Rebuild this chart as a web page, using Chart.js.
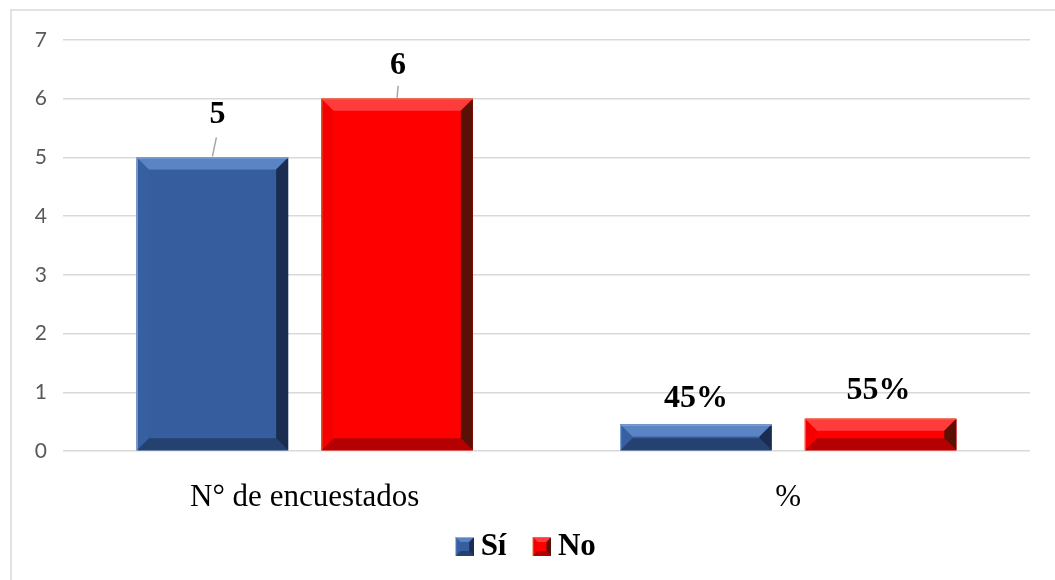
<!DOCTYPE html>
<html lang="es">
<head>
<meta charset="UTF-8">
<title>Encuestados</title>
<script src="https://cdn.jsdelivr.net/npm/chart.js"></script>
<style>
    html, body { margin: 0; padding: 0; background: #fff; }
    #wrap { width: 1055px; height: 580px; }
</style>
</head>
<body>
<div id="wrap"><canvas id="chart" width="1055" height="580"></canvas></div>
<script>
    // chart data
    const categories = ['N° de encuestados', '%'];
    const siValues = [5, 0.45];
    const noValues = [6, 0.55];
    const siLabels = ['5', '45%'];
    const noLabels = ['6', '55%'];
    const seriesNames = ['Sí', 'No'];
    const yMax = 7;

    const serif = '"Liberation Serif", "Times New Roman", serif';

    // colours for the bevelled bars
    const palettes = [
        { main: '#365E9F', top: '#5A84C4', left: '#3760A2', bottom: '#25416F', right: '#1A2D50', edge: '#8EB0DC' },
        { main: '#FF0000', top: '#FF3C3C', left: '#F50000', bottom: '#B40000', right: '#5A1004', edge: '#D2762E' }
    ];

    function bevel(ctx, x0, y0, x1, y1, p, b) {
        ctx.save();
        function poly(pts, col) {
            ctx.beginPath();
            ctx.moveTo(pts[0][0], pts[0][1]);
            for (let i = 1; i < pts.length; i++) ctx.lineTo(pts[i][0], pts[i][1]);
            ctx.closePath();
            ctx.fillStyle = col;
            ctx.fill();
        }
        poly([[x0, y0], [x1, y0], [x1, y1], [x0, y1]], p.main);
        poly([[x0, y0], [x1, y0], [x1 - b, y0 + b], [x0 + b, y0 + b]], p.top);
        poly([[x0, y1], [x1, y1], [x1 - b, y1 - b], [x0 + b, y1 - b]], p.bottom);
        poly([[x0, y0], [x0 + b, y0 + b], [x0 + b, y1 - b], [x0, y1]], p.left);
        poly([[x1, y0], [x1 - b, y0 + b], [x1 - b, y1 - b], [x1, y1]], p.right);
        ctx.strokeStyle = p.edge;
        ctx.lineWidth = 1;
        ctx.beginPath();
        ctx.moveTo(x0 + 0.5, y1);
        ctx.lineTo(x0 + 0.5, y0 + 0.5);
        ctx.lineTo(x1, y0 + 0.5);
        ctx.stroke();
        ctx.restore();
    }

    // legend swatches (square sits on the right half so it hugs the text)
    const swatches = palettes.map(p => {
        const c = document.createElement('canvas');
        c.width = 38; c.height = 19;
        bevel(c.getContext('2d'), 19, 0, 38, 19, p, 5);
        return c;
    });

    // where each value label sits above its bar (dx, dy above top, leader line)
    const labelPos = [
        [{ dx: 5, dy: 43, line: [4, 20] }, { dx: 0, dy: 26 }],
        [{ dx: 1, dy: 33, line: [1, 13] }, { dx: -2, dy: 28 }]
    ];
    const valueTexts = [siLabels, noLabels];

    const framePlugin = {
        id: 'frame',
        beforeDraw(chart) {
            const ctx = chart.ctx;
            ctx.save();
            ctx.strokeStyle = '#D9D9D9';
            ctx.lineWidth = 1.5;
            ctx.beginPath();
            ctx.moveTo(11, 580);
            ctx.lineTo(11, 10);
            ctx.lineTo(1055, 10);
            ctx.stroke();
            ctx.restore();
        }
    };

    const bevelPlugin = {
        id: 'bevel',
        afterDatasetsDraw(chart) {
            const ctx = chart.ctx;
            chart.data.datasets.forEach((ds, di) => {
                const meta = chart.getDatasetMeta(di);
                meta.data.forEach((bar, i) => {
                    const x0 = bar.x - bar.width / 2, x1 = bar.x + bar.width / 2;
                    const y0 = bar.y, y1 = bar.base;
                    const b = Math.min(12, (y1 - y0) / 2);
                    bevel(ctx, x0, y0, x1, y1, palettes[di], b);

                    // value label
                    const pos = labelPos[di][i];
                    ctx.save();
                    if (pos.line) {
                        ctx.strokeStyle = '#A6A6A6';
                        ctx.lineWidth = 1.5;
                        ctx.beginPath();
                        ctx.moveTo(bar.x, y0 - 1);
                        ctx.lineTo(bar.x + pos.line[0], y0 - pos.line[1]);
                        ctx.stroke();
                    }
                    ctx.fillStyle = '#000';
                    ctx.font = 'bold 32px ' + serif;
                    ctx.textAlign = 'center';
                    ctx.textBaseline = 'middle';
                    ctx.fillText(valueTexts[di][i], bar.x + pos.dx, y0 - pos.dy);
                    ctx.restore();
                });
            });
        }
    };

    new Chart(document.getElementById('chart'), {
        type: 'bar',
        data: {
            labels: categories,
            datasets: [
                { label: seriesNames[0], data: siValues, backgroundColor: palettes[0].main },
                { label: seriesNames[1], data: noValues, backgroundColor: palettes[1].main }
            ]
        },
        options: {
            responsive: false,
            animation: false,
            categoryPercentage: 0.764,
            barPercentage: 0.82,
            layout: { padding: { left: 11, right: 25, top: 40, bottom: 8 } },
            scales: {
                x: {
                    grid: { display: false },
                    border: { display: false },
                    ticks: { color: '#000', font: { family: serif, size: 31 }, padding: 20 },
                    afterFit(scale) { scale.height = 64; }
                },
                y: {
                    min: 0,
                    max: yMax,
                    ticks: { stepSize: 1, color: '#595959', font: { family: 'Lato, "Open Sans", sans-serif', size: 21 }, padding: 16 },
                    grid: { color: '#D9D9D9', lineWidth: 1.5, drawTicks: false },
                    border: { display: false },
                    afterFit(scale) { scale.width = 52; }
                }
            },
            plugins: {
                tooltip: { enabled: false },
                legend: {
                    position: 'bottom',
                    labels: {
                        usePointStyle: true,
                        boxWidth: 20,
                        boxHeight: 20,
                        padding: 16,
                        color: '#000',
                        font: { family: serif, size: 31, weight: 'bold' },
                        generateLabels(chart) {
                            const items = Chart.defaults.plugins.legend.labels.generateLabels(chart);
                            items.forEach((it, i) => { it.pointStyle = swatches[i]; });
                            return items;
                        }
                    }
                }
            }
        },
        plugins: [framePlugin, bevelPlugin]
    });
</script>
</body>
</html>
